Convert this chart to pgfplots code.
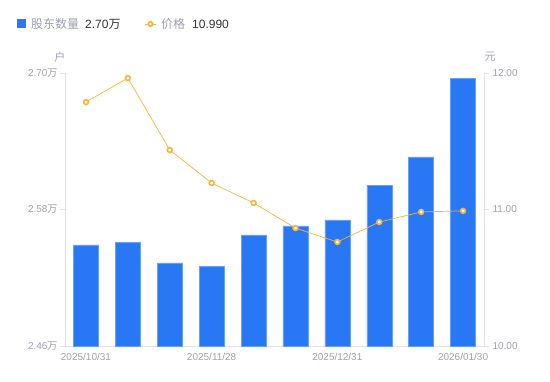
\documentclass[border=0pt]{standalone}
\usepackage{fontspec}
\setmainfont{Liberation Sans}
\newfontfamily\cjk{Noto Sans CJK SC}
\usepackage{pgfplots}
\pgfplotsset{compat=1.18}
\definecolor{barblue}{HTML}{2878F5}
\definecolor{lineorange}{HTML}{F8B338}
\definecolor{axisgray}{HTML}{E2E3E8}
\definecolor{tickgray}{HTML}{9EA0AE}
\definecolor{darktext}{HTML}{333333}
\begin{document}
\begin{tikzpicture}[x=1pt,y=1pt]
\path[use as bounding box] (0,0) rectangle (550,381);
\begin{axis}[
  at={(65pt,35pt)}, anchor=south west,
  width=419pt, height=273pt, scale only axis,
  xmin=-0.5, xmax=9.5, ymin=2.46, ymax=2.70,
  axis x line*=bottom, axis y line*=left,
  axis line style={draw=axisgray,-},
  xtick={0,3,6,9},
  xticklabels={2025/10/31,2025/11/28,2025/12/31,2026/01/30},
  x tick style={draw=none},
  ytick={2.46,2.58,2.70},
  yticklabels={{2.46\cjk{万}},{2.58\cjk{万}},{2.70\cjk{万}}},
  y tick style={draw=axisgray},
  tick align=outside, major tick length=5pt,
  ticklabel style={font=\fontsize{10}{12}\selectfont, text=tickgray},
  xticklabel style={yshift=1pt},
  yticklabel style={xshift=1pt},
  clip=false,
]
\addplot[ybar, bar width=25pt, fill=barblue, draw=barblue!70!white, line width=0.4pt] coordinates {
(0,2.5488) (1,2.5514) (2,2.5330) (3,2.5303) (4,2.5576)
(5,2.5655) (6,2.5708) (7,2.6015) (8,2.6262) (9,2.6956)};
\node[font=\cjk\fontsize{11}{13}\selectfont, text=tickgray] at (axis description cs:0,1) [xshift=-5pt, yshift=16pt] {户};
\end{axis}
\begin{axis}[
  at={(65pt,35pt)}, anchor=south west,
  width=419pt, height=273pt, scale only axis,
  xmin=-0.5, xmax=9.5, ymin=10, ymax=12,
  axis x line=none, axis y line*=right,
  axis line style={draw=axisgray,-},
  ytick={10,11,12},
  yticklabel style={/pgf/number format/.cd, fixed, fixed zerofill, precision=2},
  /pgf/number format/assume math mode=true,
  y tick style={draw=axisgray},
  tick align=outside, major tick length=5pt,
  ticklabel style={font=\fontsize{10}{12}\selectfont, text=tickgray},
  clip=false,
]
\addplot[lineorange, line width=0.7pt, mark=*, mark size=2.4pt,
  mark options={draw=lineorange, fill=white, line width=1.6pt}] coordinates {
(0,11.787) (1,11.963) (2,11.436) (3,11.194) (4,11.048)
(5,10.864) (6,10.762) (7,10.908) (8,10.982) (9,10.990)};
\node[font=\cjk\fontsize{11}{13}\selectfont, text=tickgray] at (axis description cs:1,1) [xshift=6pt, yshift=16pt] {元};
\end{axis}
% legend
\fill[barblue] (17,352.5) rectangle (26,361.5);
\node[anchor=west, inner sep=0pt, font=\cjk\fontsize{12}{14}\selectfont, text=tickgray] at (31,357) {股东数量};
\node[anchor=west, inner sep=0pt, font=\fontsize{12}{14}\selectfont, text=darktext] at (85,357) {2.70\cjk{万}};
\draw[lineorange, line width=0.8pt] (145,357) -- (156,357);
\draw[lineorange, line width=1.6pt, fill=white] (150.5,357) circle (2.2);
\node[anchor=west, inner sep=0pt, font=\cjk\fontsize{12}{14}\selectfont, text=tickgray] at (161,357) {价格};
\node[anchor=west, inner sep=0pt, font=\fontsize{12}{14}\selectfont, text=darktext] at (192,357) {10.990};
\end{tikzpicture}
\end{document}
